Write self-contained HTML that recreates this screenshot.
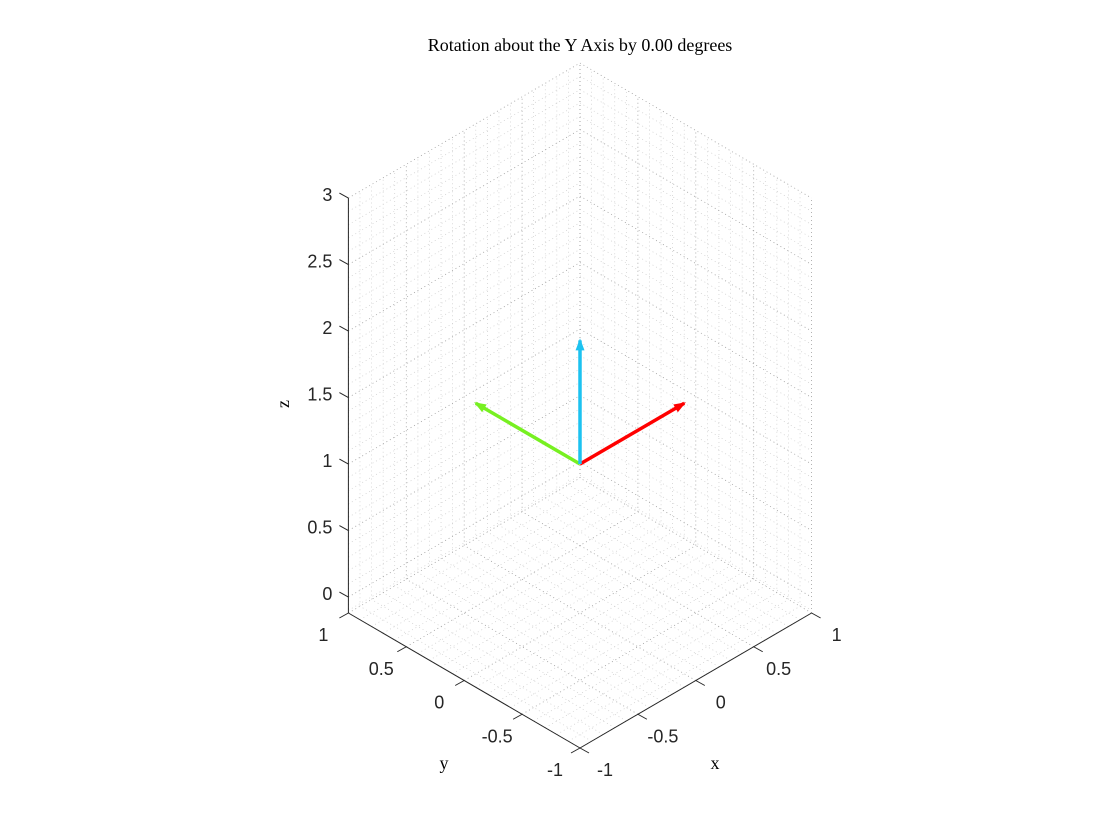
<!DOCTYPE html>
<html><head><meta charset="utf-8"><style>
html,body{margin:0;padding:0;background:#fff;width:1120px;height:840px;overflow:hidden}
svg text{font-family:"Liberation Sans",sans-serif;font-size:18px;fill:#262626}
.serif{font-family:"Liberation Serif",serif !important;fill:#000}
</style></head><body>
<svg id="chart" width="1120" height="840" viewBox="0 0 1120 840" xmlns="http://www.w3.org/2000/svg">
<g id="grid"></g>
<g id="axes"></g>
<g id="arrows"></g>
<text class="serif" x="580" y="51" text-anchor="middle" style="font-size:18px">Rotation about the Y Axis by 0.00 degrees</text>
<text class="serif" x="715" y="769" text-anchor="middle" style="font-size:18px">x</text>
<text class="serif" x="444" y="769" text-anchor="middle" style="font-size:18px">y</text>
<text class="serif" x="289" y="404" text-anchor="middle" style="font-size:18px" transform="rotate(-90 289 404)">z</text>
</svg>
<script>
const xTicks=[-1,-0.5,0,0.5,1];
const yTicks=[-1,-0.5,0,0.5,1];
const zTicks=[0,0.5,1,1.5,2,2.5,3];
const xTickLabels=["-1","-0.5","0","0.5","1"];
const yTickLabels=["-1","-0.5","0","0.5","1"];
const zTickLabels=["0","0.5","1","1.5","2","2.5","3"];
const arrowOrigin=[0,0,1];
const arrowX=[0.9,0,0];
const arrowY=[0,0.9,0];
const arrowZ=[0,0,0.93];
const arrowColors=["#ff0000","#77f021","#1cc2f0"];
const arrowNames=["x-axis-vector","y-axis-vector","z-axis-vector"];

const ZMIN=-0.12, ZMAX=3;
function P(x,y,z){return [580+115.8*(x-y), 613-67.5*(x+y)-133*(z-ZMIN)];}
const NS="http://www.w3.org/2000/svg";
function mk(parent,tag,attrs){const e=document.createElementNS(NS,tag);for(const k in attrs)e.setAttribute(k,attrs[k]);parent.appendChild(e);return e;}
function line(parent,a,b,st){return mk(parent,'line',Object.assign({x1:a[0],y1:a[1],x2:b[0],y2:b[1]},st));}
const grid=document.getElementById('grid'),axes=document.getElementById('axes'),arr=document.getElementById('arrows');
const minor={stroke:'#cccccc','stroke-width':0.7,'stroke-dasharray':'1 3'};
const major={stroke:'#a0a0a0','stroke-width':0.8,'stroke-dasharray':'1 3'};
for(let i=-10;i<=10;i++){const v=i/10;const st=(i%5===0)?major:minor;
  let g;
  g=line(grid,P(v,-1,ZMIN),P(v,1,ZMIN),st);
  g=line(grid,P(-1,v,ZMIN),P(1,v,ZMIN),st);
  g=line(grid,P(v,1,ZMIN),P(v,1,ZMAX),st);
  g=line(grid,P(1,v,ZMIN),P(1,v,ZMAX),st);
}
for(let i=-1;i<=30;i++){const z=i/10;const st=(i%5===0)?major:minor;
  let g=line(grid,P(-1,1,z),P(1,1,z),st);
  g=line(grid,P(1,1,z),P(1,-1,z),st);
}
const ax={stroke:'#262626','stroke-width':1};
let a;
a=line(axes,P(-1,-1,ZMIN),P(1,-1,ZMIN),ax);
a=line(axes,P(-1,-1,ZMIN),P(-1,1,ZMIN),ax);
a=line(axes,P(-1,1,ZMIN),P(-1,1,ZMAX),ax);
xTicks.forEach((v,i)=>{const p=P(v,-1,ZMIN);
  const t=line(axes,p,[p[0]+9,p[1]+5],ax);
  const tx=mk(axes,'text',{x:p[0]+25,y:p[1]+28,'text-anchor':'middle'});tx.textContent=xTickLabels[i];
  });
yTicks.forEach((v,i)=>{const p=P(-1,v,ZMIN);
  const t=line(axes,p,[p[0]-9,p[1]+5],ax);
  const tx=mk(axes,'text',{x:p[0]-25,y:p[1]+28,'text-anchor':'middle'});tx.textContent=yTickLabels[i];
  });
zTicks.forEach((v,i)=>{const p=P(-1,1,v);
  const t=line(axes,p,[p[0]-9,p[1]-5],ax);
  const tx=mk(axes,'text',{x:p[0]-16,y:p[1]+3,'text-anchor':'end'});tx.textContent=zTickLabels[i];
  });
[arrowX,arrowY,arrowZ].forEach((v,i)=>{
  const o=P(arrowOrigin[0],arrowOrigin[1],arrowOrigin[2]);
  const e=P(arrowOrigin[0]+v[0],arrowOrigin[1]+v[1],arrowOrigin[2]+v[2]);
  const g=mk(arr,'g',{});
  
  
  line(g,o,e,{stroke:arrowColors[i],'stroke-width':3.5});
  const dx=e[0]-o[0],dy=e[1]-o[1],L=Math.hypot(dx,dy),ux=dx/L,uy=dy/L;
  const hl=10,hw=4.5;const b=[e[0]-ux*hl,e[1]-uy*hl];
  mk(g,'polygon',{points:`${e[0]+ux*2},${e[1]+uy*2} ${b[0]-uy*hw},${b[1]+ux*hw} ${b[0]+uy*hw},${b[1]-ux*hw}`,fill:arrowColors[i]});
});
</script>
</body></html>
